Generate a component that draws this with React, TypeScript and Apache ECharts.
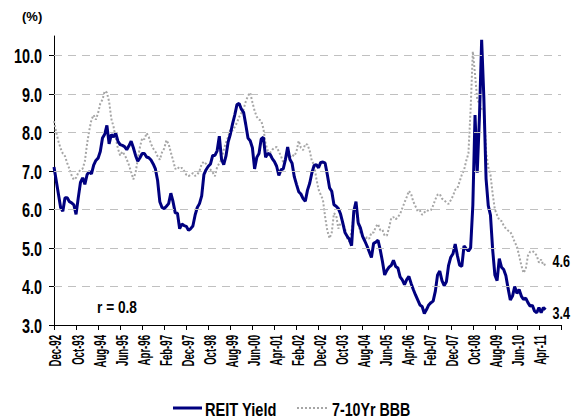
import React, { useEffect, useRef } from "react";
import * as echarts from "echarts";

// Monthly categories from Dec-92 to Feb-12 (axis span); data runs Dec-92 .. Jul-11
const MONTHS = ["Jan", "Feb", "Mar", "Apr", "May", "Jun", "Jul", "Aug", "Sep", "Oct", "Nov", "Dec"];
const START_YEAR = 1992;
const START_MONTH = 11; // Dec
const AXIS_MONTHS = 231;
const tickLabels = [
  "Dec-92", "Oct-93", "Aug-94", "Jun-95", "Apr-96", "Feb-97", "Dec-97", "Oct-98",
  "Aug-99", "Jun-00", "Apr-01", "Feb-02", "Dec-02", "Oct-03", "Aug-04", "Jun-05",
  "Apr-06", "Feb-07", "Dec-07", "Oct-08", "Aug-09", "Jun-10", "Apr-11",
];
const categories: string[] = [];
for (let i = 0; i < AXIS_MONTHS; i++) {
  const m = START_MONTH + i;
  const y = START_YEAR + Math.floor(m / 12);
  categories.push(MONTHS[m % 12] + "-" + String(y % 100).padStart(2, "0"));
}

const reitYield = [
  7.10, 6.75, 6.40, 6.05, 5.95, 6.30, 6.30, 6.20, 6.17, 6.12,
  5.87, 6.30, 6.70, 6.82, 6.65, 6.90, 6.98, 6.92, 7.15, 7.27,
  7.33, 7.50, 7.85, 7.95, 8.18, 7.70, 7.94, 7.88, 7.98, 7.77,
  7.68, 7.66, 7.63, 7.55, 7.65, 7.77, 7.60, 7.40, 7.25, 7.34,
  7.45, 7.45, 7.36, 7.34, 7.28, 7.18, 7.05, 6.75, 6.20, 6.05,
  6.02, 6.08, 6.15, 6.42, 6.20, 5.91, 5.90, 5.50, 5.62, 5.58,
  5.56, 5.46, 5.50, 5.57, 5.85, 6.05, 6.15, 6.35, 6.90, 7.03,
  7.12, 7.18, 7.40, 7.40, 7.52, 7.90, 7.30, 7.16, 7.38, 7.75,
  7.95, 8.22, 8.45, 8.72, 8.75, 8.60, 8.52, 8.20, 7.85, 7.78,
  7.60, 7.05, 7.35, 7.45, 7.83, 7.87, 7.35, 7.45, 7.43, 7.32,
  7.24, 7.12, 6.88, 7.03, 7.05, 7.30, 7.62, 7.30, 7.20, 6.85,
  6.65, 6.46, 6.40, 6.28, 6.21, 6.50, 6.68, 6.95, 7.14, 7.16,
  7.08, 7.22, 7.23, 7.20, 6.90, 6.56, 6.47, 6.12, 6.08, 6.02,
  5.88, 5.65, 5.40, 5.30, 5.22, 5.06, 5.95, 6.20, 5.65, 5.52,
  5.30, 5.18, 5.05, 4.90, 4.75, 5.12, 5.15, 5.20, 4.95, 4.65,
  4.30, 4.42, 4.50, 4.55, 4.68, 4.52, 4.48, 4.25, 4.17, 4.05,
  4.18, 4.26, 4.08, 3.92, 3.78, 3.65, 3.52, 3.48, 3.30, 3.40,
  3.52, 3.58, 3.62, 3.88, 4.30, 4.40, 4.15, 4.02, 4.12, 4.55,
  4.76, 4.85, 5.10, 4.80, 4.55, 4.52, 5.05, 4.98, 4.92, 5.00,
  6.10, 8.45, 6.95, 8.40, 10.40, 8.90, 6.80, 6.10, 5.85, 4.95,
  4.30, 4.15, 4.72, 4.50, 4.44, 4.28, 3.95, 3.65, 3.75, 4.00,
  3.82, 3.92, 3.75, 3.66, 3.70, 3.58, 3.49, 3.51, 3.36, 3.32,
  3.45, 3.32, 3.45, 3.40,
];

const bbbYield = [
  8.29, 8.00, 7.77, 7.58, 7.45, 7.38, 7.20, 7.05, 6.88, 6.77,
  6.82, 6.95, 7.03, 7.06, 7.25, 7.70, 8.05, 8.33, 8.45, 8.33,
  8.50, 8.75, 8.85, 9.07, 9.03, 8.80, 8.35, 8.15, 7.85, 7.58,
  7.40, 7.50, 7.42, 7.30, 7.15, 6.97, 6.78, 6.95, 7.30, 7.62,
  7.85, 7.82, 7.98, 7.88, 7.70, 7.58, 7.50, 7.38, 7.29, 7.48,
  7.58, 7.80, 7.70, 7.48, 7.28, 7.05, 7.10, 7.05, 7.08, 7.00,
  6.90, 6.86, 6.90, 6.94, 6.87, 6.90, 7.00, 7.18, 7.24, 7.18,
  7.10, 7.03, 6.96, 6.86, 7.10, 7.20, 7.29, 7.55, 7.73, 7.88,
  8.08, 8.04, 8.14, 8.25, 8.40, 8.50, 8.60, 8.80, 8.95, 9.03,
  8.78, 8.56, 8.40, 8.33, 8.30, 8.10, 7.70, 7.52, 7.47, 7.55,
  7.60, 7.62, 7.50, 7.38, 7.22, 7.28, 7.44, 7.35, 7.42, 7.38,
  7.50, 7.78, 7.60, 7.54, 7.70, 7.68, 7.52, 7.25, 7.16, 6.80,
  6.52, 6.38, 6.25, 5.80, 5.45, 5.25, 5.40, 5.90, 5.85, 5.50,
  5.65, 5.65, 5.50, 5.25, 5.16, 5.45, 5.85, 5.99, 5.62, 5.40,
  5.31, 5.20, 5.28, 5.24, 5.40, 5.40, 5.55, 5.62, 5.46, 5.47,
  5.32, 5.32, 5.52, 5.78, 5.80, 5.74, 5.80, 5.88, 6.03, 6.18,
  6.32, 6.48, 6.40, 6.20, 6.08, 5.95, 5.97, 5.86, 5.92, 5.98,
  5.96, 5.98, 6.10, 6.26, 6.38, 6.40, 6.28, 6.24, 6.18, 6.14,
  6.24, 6.35, 6.51, 6.55, 6.72, 6.90, 7.02, 7.26, 7.45, 8.60,
  10.10, 9.50, 8.85, 8.75, 8.60, 8.65, 7.50, 7.10, 6.90, 6.40,
  6.00, 5.85, 5.72, 5.70, 5.58, 5.50, 5.45, 5.42, 5.30, 5.15,
  5.04, 4.80, 4.55, 4.35, 4.45, 4.80, 4.90, 4.92, 4.88, 4.80,
  4.62, 4.70, 4.55, 4.58,
];

const yTicks = [3, 4, 5, 6, 7, 8, 9, 10];
const gridValues = [4, 5, 6, 7, 8, 9, 10];
const seriesNames = ["REIT Yield", "7-10Yr BBB"];
const corrLabel = "r = 0.8";
const unitLabel = "(%)";

const FONT = "'Liberation Sans', Arial, sans-serif";
const REIT_COLOR = "#00007f";
const BBB_COLOR = "#a6a6a6";

export default function App() {
  const ref = useRef<HTMLDivElement>(null);
  useEffect(() => {
    if (!ref.current) return;
    const chart = echarts.init(ref.current, undefined, { renderer: "svg" });
    chart.setOption({
      animation: false,
      backgroundColor: "#ffffff",
      grid: { left: 54, right: 10, top: 36, bottom: 94, containLabel: false },
      xAxis: {
        type: "category",
        data: categories,
        boundaryGap: false,
        axisLine: { lineStyle: { color: "#000", width: 1 } },
        axisTick: { interval: 9, length: 5, lineStyle: { color: "#000" } },
        axisLabel: { show: false },
        splitLine: { show: false },
      },
      yAxis: {
        type: "value",
        min: 3,
        max: 10.5,
        interval: 1,
        axisLine: { show: true, lineStyle: { color: "#000", width: 1 } },
        axisTick: { show: true, length: 5, lineStyle: { color: "#000" }, customValues: yTicks },
        axisLabel: { show: false },
        splitLine: { show: false },
      },
      series: [
        {
          name: "grid",
          type: "line",
          data: [],
          silent: true,
          z: 1,
          markLine: {
            silent: true,
            symbol: "none",
            label: { show: false },
            lineStyle: { color: "#c0c0c0", type: [8, 6], width: 1 },
            data: gridValues.map((v) => ({ yAxis: v })),
          },
        },
        {
          name: seriesNames[1],
          type: "line",
          data: bbbYield,
          showSymbol: false,
          symbol: "none",
          z: 2,
          lineStyle: { color: BBB_COLOR, width: 2, type: "dotted" },
        },
        {
          name: seriesNames[0],
          type: "line",
          data: reitYield,
          showSymbol: false,
          symbol: "none",
          z: 3,
          lineStyle: { color: REIT_COLOR, width: 3 },
        },
      ],
    });

    // Labels drawn as condensed texts, positioned by the chart's own scales
    const px = (cat: string, v: number) =>
      chart.convertToPixel({ gridIndex: 0 }, [cat, v]) as number[];
    const baseY = px(categories[0], 3)[1];
    const axisX = px(categories[0], 3)[0];
    const graphics: any[] = [];
    const txt = (text: string, x: number, y: number, size: number, align: string, scale: number, rot = 0) => ({
      type: "text",
      x,
      y,
      rotation: rot,
      scaleX: scale,
      silent: true,
      style: {
        text,
        fontFamily: FONT,
        fontWeight: "bold",
        fontSize: size,
        fill: "#000",
        align,
        verticalAlign: "middle",
      },
    });
    yTicks.forEach((v) => {
      const p = px(categories[0], v);
      graphics.push(txt(v.toFixed(1), axisX - 12, p[1] + 1, 19.5, "right", 0.74));
    });
    tickLabels.forEach((lab) => {
      const p = px(lab, 3);
      graphics.push(txt(lab, p[0] + 2, baseY + 10, 16, "right", 0.6, Math.PI / 2));
    });
    // end labels
    const lastR = reitYield.length - 1;
    const pr = px(categories[lastR], reitYield[lastR]);
    graphics.push(txt(reitYield[lastR].toFixed(1), pr[0] + 7, pr[1] + 3, 17, "left", 0.74));
    const lastB = bbbYield.length - 1;
    const pb = px(categories[lastB], bbbYield[lastB]);
    graphics.push(txt(bbbYield[lastB].toFixed(1), pb[0] + 7, pb[1] - 3, 17, "left", 0.74));
    // correlation note
    graphics.push(txt(corrLabel, 97, 307, 16.5, "left", 0.83));
    // unit
    graphics.push({
      type: "text",
      x: 22,
      y: 16,
      silent: true,
      style: { text: unitLabel, fontFamily: FONT, fontWeight: "bold", fontSize: 13, fill: "#000", align: "left", verticalAlign: "middle" },
    });
    // legend
    const legY = 408;
    graphics.push({
      type: "line",
      silent: true,
      shape: { x1: 173, y1: legY, x2: 202, y2: legY },
      style: { stroke: REIT_COLOR, lineWidth: 3 },
    });
    graphics.push(txt(seriesNames[0], 205, legY + 1.5, 18.5, "left", 0.79));
    graphics.push({
      type: "line",
      silent: true,
      shape: { x1: 297, y1: legY, x2: 329, y2: legY },
      style: { stroke: BBB_COLOR, lineWidth: 2, lineDash: [2, 2] },
    });
    graphics.push(txt(seriesNames[1], 332, legY + 1.5, 18.5, "left", 0.77));

    chart.setOption({ graphic: graphics });
    return () => chart.dispose();
  }, []);
  return (
    <div
      ref={ref}
      style={{ position: "absolute", left: 0, top: 0, width: 571, height: 419 }}
    />
  );
}
